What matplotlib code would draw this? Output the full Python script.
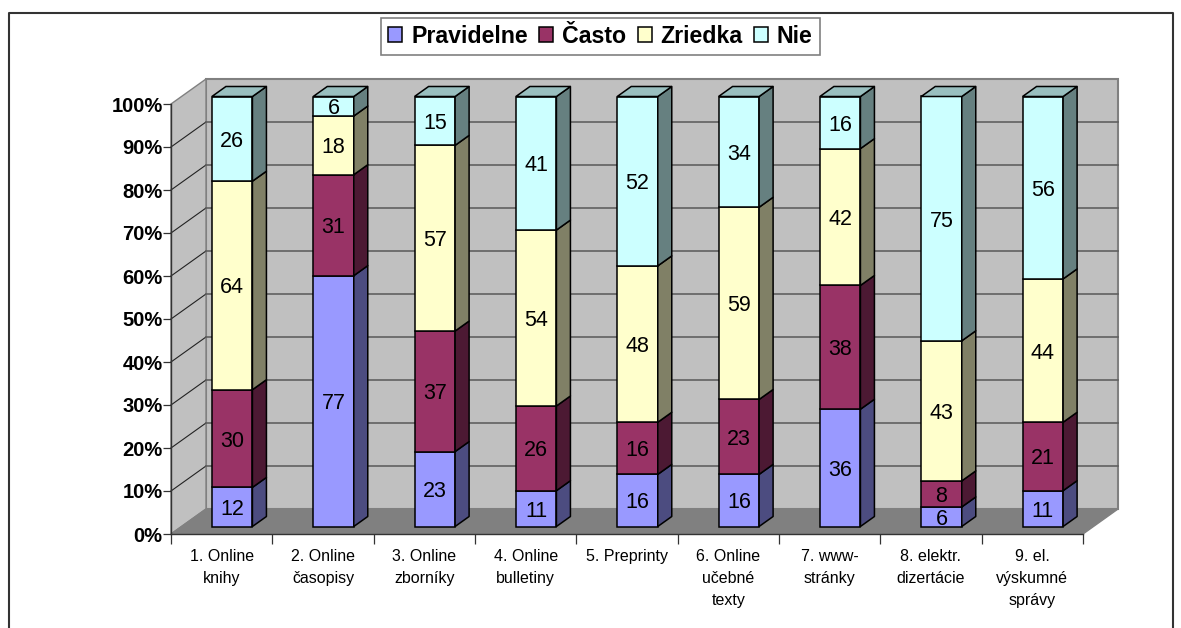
import numpy as np
import matplotlib
matplotlib.use("Agg")
import matplotlib.pyplot as plt
from matplotlib.lines import Line2D
from matplotlib.patches import Patch, Polygon

plt.rcParams["font.family"] = ["Liberation Sans", "DejaVu Sans"]

categories = [
    "1. Online\nknihy", "2. Online\nčasopisy", "3. Online\nzborníky",
    "4. Online\nbulletiny", "5. Preprinty", "6. Online\nučebné\ntexty",
    "7. www-\nstránky", "8. elektr.\ndizertácie", "9. el.\nvýskumné\nsprávy",
]
pravidelne = [12, 77, 23, 11, 16, 16, 36, 6, 11]
casto = [30, 31, 37, 26, 16, 23, 38, 8, 21]
zriedka = [64, 18, 57, 54, 48, 59, 42, 43, 44]
nie = [26, 6, 15, 41, 52, 34, 16, 75, 56]
series_names = ["Pravidelne", "Často", "Zriedka", "Nie"]
y_ticks = [0, 10, 20, 30, 40, 50, 60, 70, 80, 90, 100]

front_colors = ["#9999FF", "#993366", "#FFFFCC", "#CCFFFF"]
side_colors = ["#4C4C80", "#4C1933", "#808066", "#668080"]
top_color = "#99BFBF"

W, H = 1181, 628
# oblique projection: full chart depth, in category widths and percent
DX = 35 / (912 / 9)
DY = 25 / 4.3
BAR_START = 0.3
BAR_END = 0.7


def oblique(x, y, depth):
    return x + DX * depth, y + DY * depth


fig = plt.figure(figsize=(W / 100, H / 100), dpi=100)
ax = fig.add_axes([171 / W, (H - 534) / H, 912 / W, 430 / H])
ax.set_xlim(0, 9)
ax.set_ylim(0, 100)
ax.patch.set_visible(False)

# ── Frame round the chart (open at the bottom) ──
fig.add_artist(Line2D([8.5 / W, 8.5 / W, 1173 / W, 1173 / W],
                      [0, 1 - 13 / H, 1 - 13 / H, 0], color="#333333", lw=1.5))

# ── Walls and floor ──
wall_edge = "#808080"
x0, y0 = oblique(0, 0, 1)
x1, y1 = oblique(9, 100, 1)
ax.add_patch(Polygon([(x0, y0), (x1, y0), (x1, y1), (x0, y1)],
                     fc="#C0C0C0", ec=wall_edge, lw=1.5, clip_on=False, zorder=1))
ax.add_patch(Polygon([(0, 0), (x0, y0), (x0, y1), (0, 100)],
                     fc="#C0C0C0", ec=wall_edge, lw=1.0, clip_on=False, zorder=1))
ax.add_patch(Polygon([(0, 0), (9, 0), (x1, y0), (x0, y0)],
                     fc="#808080", ec="#808080", lw=1.0, clip_on=False, zorder=1))

for t in y_ticks[1:-1]:
    bx, by = oblique(0, t, 1)
    ax.plot([0, bx], [t, by], color="#222222", lw=0.8, clip_on=False, zorder=2)
    ax.plot([bx, x1], [by, by], color="#606060", lw=1.2, clip_on=False, zorder=2)

# ── Stacked 100 % bars ──
rows = np.array([pravidelne, casto, zriedka, nie], dtype=float)
shares = rows / rows.sum(axis=0) * 100

for i in range(len(categories)):
    fx0, _ = oblique(i + BAR_START, 0, BAR_START)
    width = BAR_END - BAR_START
    fx1 = fx0 + width
    lift = DY * BAR_START
    bottom = 0.0
    depth = BAR_END - BAR_START
    for s in range(len(series_names)):
        h = shares[s, i]
        yb = bottom + lift
        yt = yb + h
        ax.bar(fx0, h, width=width, bottom=yb, align="edge", color=front_colors[s],
               edgecolor="black", linewidth=1.1, clip_on=False, zorder=3)
        sx, sb = oblique(fx1, yb, depth)
        _, st = oblique(fx1, yt, depth)
        ax.add_patch(Polygon([(fx1, yb), (sx, sb), (sx, st), (fx1, yt)],
                             fc=side_colors[s], ec="black", lw=1.1,
                             joinstyle="round", clip_on=False, zorder=3))
        ax.text(fx0 + width / 2, yb + h / 2, f"{int(rows[s, i])}", ha="center",
                va="center_baseline", fontsize=15.5, color="black", zorder=5)
        bottom += h
    top_y = 100 + lift
    tx0, ty = oblique(fx0, top_y, depth)
    ax.add_patch(Polygon([(fx0, top_y), (fx1, top_y), (fx1 + DX * depth, ty), (tx0, ty)],
                         fc=top_color, ec="black", lw=1.1, clip_on=False, zorder=3))

# ── Axes ──
for name in ["top", "right"]:
    ax.spines[name].set_visible(False)
for name in ["left", "bottom"]:
    ax.spines[name].set_color("#333333")
    ax.spines[name].set_linewidth(1.0)
    ax.spines[name].set_zorder(4)

ax.set_yticks(y_ticks, [f"{t}%" for t in y_ticks], fontsize=14.5, fontweight="bold")
ax.tick_params(axis="y", length=6, width=0.9, pad=0, color="#333333")
ax.set_xticks(range(10), [""] * 10)
ax.tick_params(axis="x", which="major", length=7, width=0.9, color="#333333")
ax.set_xticks(np.arange(9) + 0.5, categories, minor=True, fontsize=11.5, linespacing=1.6)
ax.tick_params(axis="x", which="minor", length=0, pad=10.5)

# ── Legend ──
handles = [Patch(fc=c, ec="black", lw=1.1) for c in front_colors]
leg = fig.legend(handles, series_names, loc="center", bbox_to_anchor=(600.5 / W, 1 - 36.5 / H),
                 ncol=4, prop={"weight": "bold", "size": 16.7}, frameon=True,
                 fancybox=False, edgecolor="#808080", framealpha=1, columnspacing=0.5,
                 handlelength=0.6, handleheight=0.6, handletextpad=0.38, borderpad=0.3,
                 borderaxespad=0)
leg.get_frame().set_linewidth(1.2)

fig.savefig("out.png", dpi=100)
